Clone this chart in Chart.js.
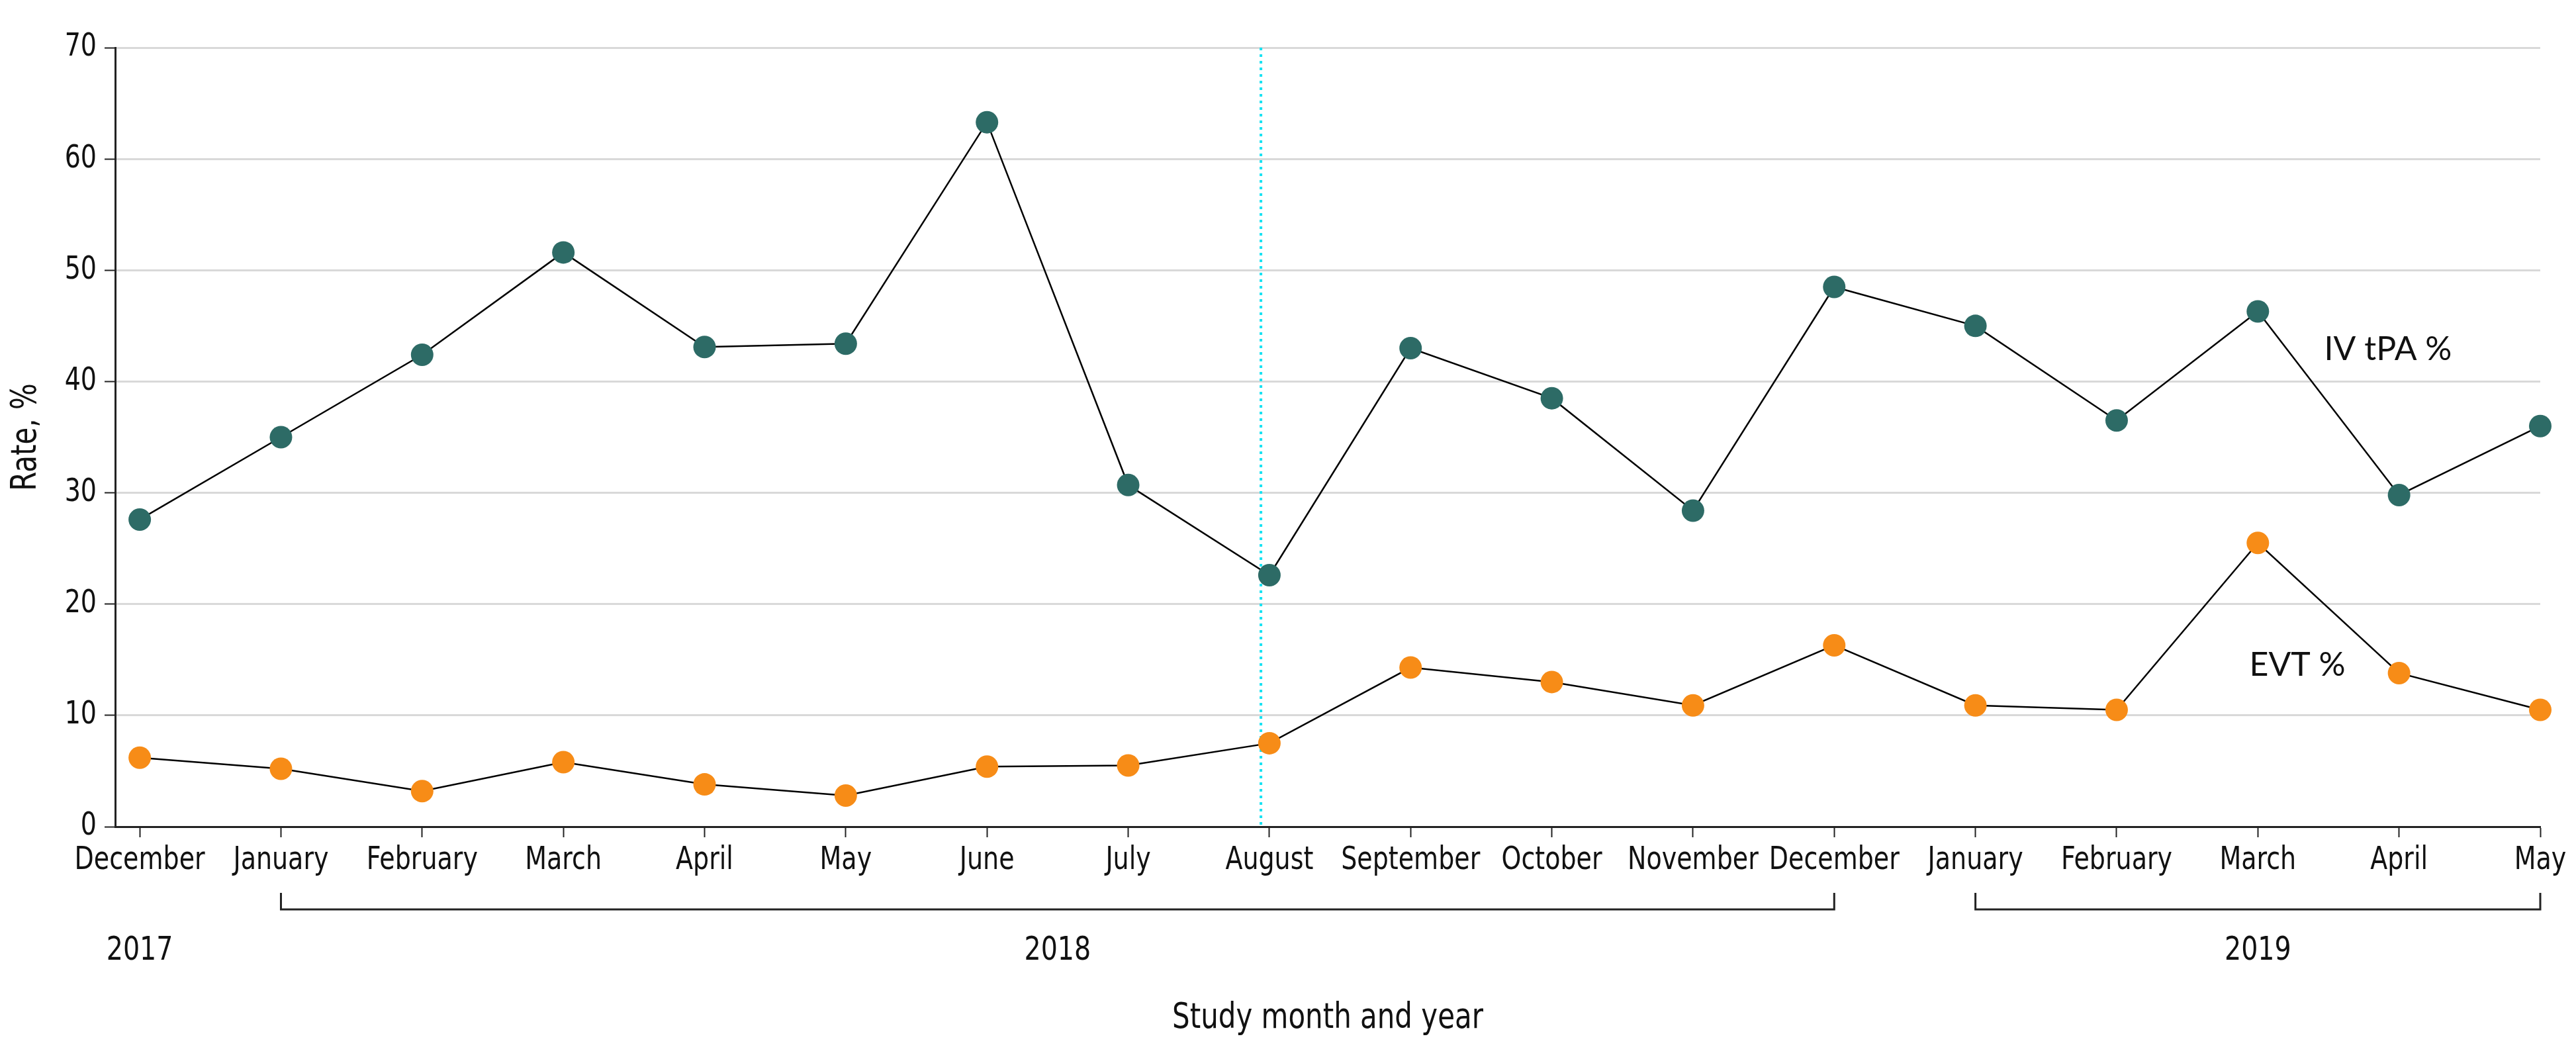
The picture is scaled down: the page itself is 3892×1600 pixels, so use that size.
<!DOCTYPE html>
<html><head><meta charset="utf-8">
<script src="https://cdn.jsdelivr.net/npm/chart.js@4.4.1/dist/chart.umd.min.js"></script>
<style>html,body{margin:0;padding:0;background:#fff;} canvas{display:block;}</style>
</head><body>
<canvas id="c" width="3892" height="1600"></canvas>
<script>
// ---- data ----
const months = ['December','January','February','March','April','May','June','July','August',
  'September','October','November','December','January','February','March','April','May'];
const ivTpa = [27.6,35.0,42.4,51.6,43.1,43.4,63.3,30.7,22.6,43.0,38.5,28.4,48.5,45.0,36.5,46.3,29.8,36.0];
const evt   = [6.2,5.2,3.2,5.8,3.8,2.8,5.4,5.5,7.5,14.3,13.0,10.9,16.3,10.9,10.5,25.5,13.8,10.5];
const yTicks = [0,10,20,30,40,50,60,70];
const years = ['2017','2018','2019'];
const yearFirst = [0,1,13];
const yearLast = [0,12,17];
const seriesNames = ['IV tPA %','EVT %'];
const interventionX = 7.94;

// ---- styles ----
const COND = "'DejaVu Sans Condensed','DejaVu Sans',sans-serif";
const SX = 0.88; // horizontal squeeze for the condensed axis typeface
const PLAIN = "Lato,'Open Sans',sans-serif";
const TXT = '#111';
const AX = '#222';
const labelPos = [{x:15.47, y:41.9},{x:14.94, y:13.56}];

const squeeze = {
  id:'squeeze',
  beforeInit(chart){
    const ctx = chart.ctx;
    if (ctx._sq) return;
    ctx._sq = true;
    const orig = ctx.fillText.bind(ctx);
    ctx.fillText = function(text, x, y, maxWidth){
      if (this.font.indexOf('Condensed') >= 0) {
        this.save(); this.translate(x, y); this.scale(SX, 1);
        if (maxWidth === undefined) orig(text, 0, 0); else orig(text, 0, 0, maxWidth / SX);
        this.restore();
      } else {
        if (maxWidth === undefined) orig(text, x, y); else orig(text, x, y, maxWidth);
      }
    };
  }
};

const extras = {
  id:'extras',
  beforeDatasetsDraw(chart){
    const {ctx, chartArea:a, scales:{x}} = chart;
    const px = x.getPixelForValue(interventionX);
    ctx.save();
    ctx.strokeStyle = '#18e2f2';
    ctx.lineWidth = 4;
    ctx.setLineDash([4,6]);
    ctx.beginPath(); ctx.moveTo(px, a.top); ctx.lineTo(px, a.bottom); ctx.stroke();
    ctx.restore();
  },
  afterDraw(chart){
    const {ctx, chartArea:a, scales:{x,y}} = chart;
    ctx.save();
    ctx.fillStyle = TXT; ctx.strokeStyle = AX; ctx.lineWidth = 3;
    ctx.font = `50px ${COND}`; ctx.textAlign='center'; ctx.textBaseline='alphabetic';
    years.forEach((yr,i)=>{
      const x0 = x.getPixelForValue(yearFirst[i]), x1 = x.getPixelForValue(yearLast[i]);
      if (yearLast[i] > yearFirst[i]) {
        const t = a.bottom + 100, b = a.bottom + 125;
        ctx.beginPath(); ctx.moveTo(x0,t); ctx.lineTo(x0,b); ctx.lineTo(x1,b); ctx.lineTo(x1,t); ctx.stroke();
      }
      ctx.fillText(yr, (x0+x1)/2, a.bottom + 201);
    });
    ctx.font = `50px ${PLAIN}`; ctx.textAlign='left';
    seriesNames.forEach((n,i)=>{
      ctx.fillText(n, x.getPixelForValue(labelPos[i].x), y.getPixelForValue(labelPos[i].y));
    });
    ctx.restore();
  }
};

const mk = (vals,color)=>({
  data: vals.map((v,i)=>({x:i,y:v})),
  borderColor:'#000', borderWidth:2.5,
  pointBackgroundColor:color, pointBorderWidth:0, pointRadius:17, pointHoverRadius:17,
  clip:false, tension:0
});

new Chart(document.getElementById('c'), {
  type:'line',
  data:{ datasets:[ mk(evt,'#f78c17'), mk(ivTpa,'#2d6b66') ] },
  options:{
    responsive:false, animation:false, devicePixelRatio:1,
    layout:{padding:{top:72,right:54,left:0,bottom:0}},
    plugins:{legend:{display:false}, tooltip:{enabled:false}},
    scales:{
      x:{
        type:'linear', min:-0.174, max:17,
        afterBuildTicks:s=>{ s.ticks = months.map((m,i)=>({value:i})); },
        afterFit:s=>{ s.height = 351; },
        ticks:{callback:v=>months[v], autoSkip:false, maxRotation:0, minRotation:0, padding:7,
               color:TXT, font:{family:COND,size:48}},
        grid:{drawOnChartArea:false, drawTicks:true, tickLength:16, tickColor:AX, tickWidth:2},
        border:{color:AX, width:3},
        title:{display:true, text:'Study month and year', color:TXT,
               font:{family:COND,size:53}, padding:{bottom:29}}
      },
      y:{
        min:0, max:70,
        afterBuildTicks:s=>{ s.ticks = yTicks.map(v=>({value:v})); },
        afterFit:s=>{ s.width = 174; },
        ticks:{padding:12, color:TXT, font:{family:COND,size:48}},
        grid:{color:'#d9d9d9', lineWidth:3, tickColor:AX, tickWidth:2, tickLength:16},
        border:{color:AX, width:3},
        title:{display:true, text:'Rate, %', color:TXT, font:{family:COND,size:53}, padding:{top:8}}
      }
    }
  },
  plugins:[squeeze, extras]
});
</script>
</body></html>
